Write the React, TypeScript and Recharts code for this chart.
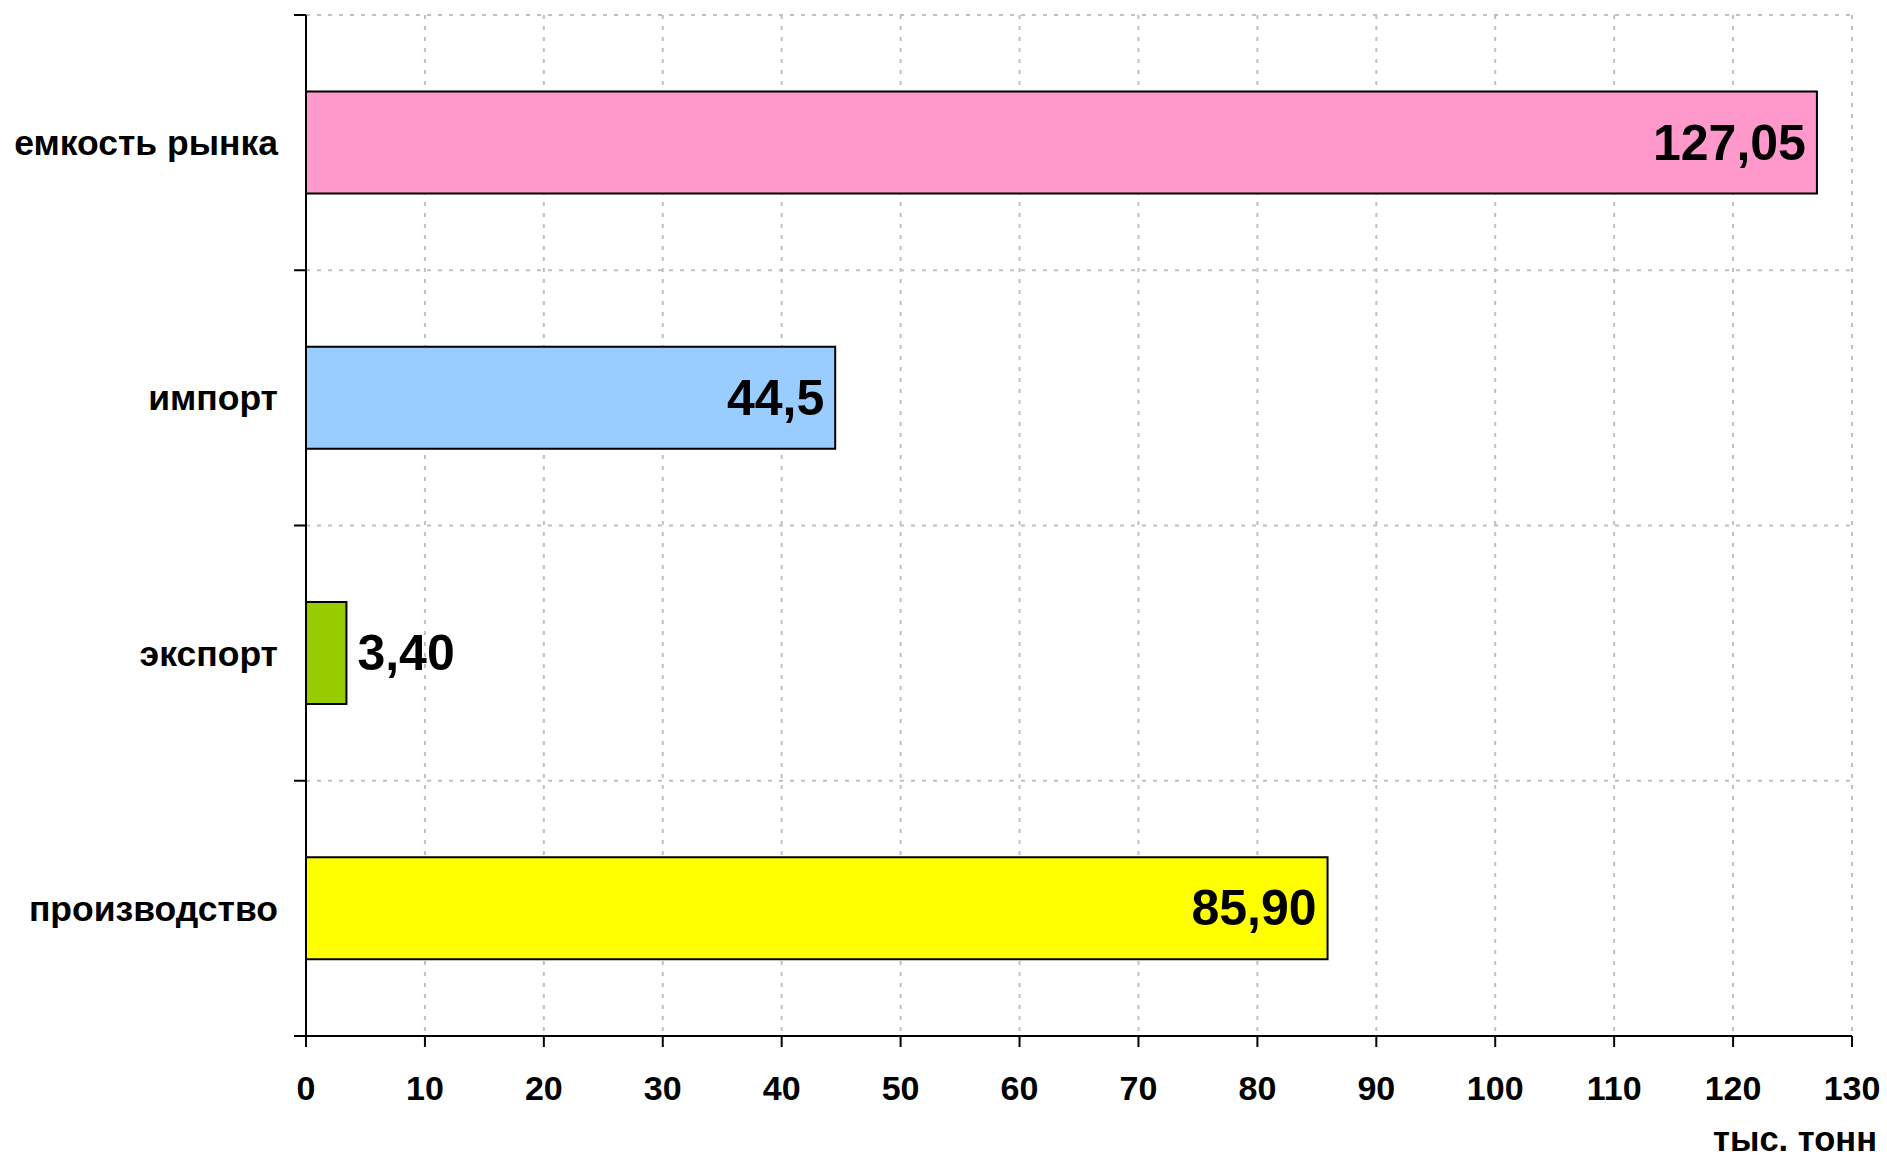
import React from 'react';
import { BarChart, Bar, XAxis, YAxis, CartesianGrid, Cell, LabelList } from 'recharts';

const categories = ['емкость рынка', 'импорт', 'экспорт', 'производство'];
const values = [127.05, 44.5, 3.4, 85.9];
const valueLabels = ['127,05', '44,5', '3,40', '85,90'];
const barColors = ['#FF99CC', '#99CCFF', '#99CC00', '#FFFF00'];
const xTicks = [0, 10, 20, 30, 40, 50, 60, 70, 80, 90, 100, 110, 120, 130];
const unitLabel = 'тыс. тонн';

const data = categories.map((name, i) => ({ name, value: values[i] }));

const FONT = 'Arial, "Liberation Sans", sans-serif';
const CHART_W = 1887;
const CHART_H = 1156;
const MARGIN = { top: 15, right: 35, bottom: 50, left: 0 };
const XAXIS_H = 70;
const PLOT_H = CHART_H - MARGIN.top - MARGIN.bottom - XAXIS_H;
const Y_TICK_MARGIN = 28;
const Y_TICK_SIZE = 12;

const CategoryTick = (props: any) => {
  const { x, y, payload, index } = props;
  const n = categories.length;
  const half = payload && payload.offset > 0 ? payload.offset : PLOT_H / n / 2;
  const axisX = x + Y_TICK_MARGIN;
  return (
    <g>
      <line x1={axisX - Y_TICK_SIZE} x2={axisX} y1={y - half} y2={y - half} stroke="#000" strokeWidth={2} />
      {index === n - 1 && (
        <line x1={axisX - Y_TICK_SIZE} x2={axisX} y1={y + half} y2={y + half} stroke="#000" strokeWidth={2} />
      )}
      <text
        x={x}
        y={y}
        dy="0.355em"
        textAnchor="end"
        fontFamily={FONT}
        fontWeight="bold"
        fontSize={35.5}
        fill="#000"
      >
        {payload.value}
      </text>
    </g>
  );
};

const ValueLabel = (props: any) => {
  const { x, y, width, height, index } = props;
  const inside = values[index] > 10;
  const tx = inside ? x + width - 11 : x + width + 11;
  return (
    <text
      x={tx}
      y={y + height / 2}
      textAnchor={inside ? 'end' : 'start'}
      dominantBaseline="central"
      fontFamily={FONT}
      fontWeight="bold"
      fontSize={50}
      fill="#000"
    >
      {valueLabels[index]}
    </text>
  );
};

const UnitLabel = (props: any) => {
  const vb = props.viewBox || {};
  return (
    <text
      x={vb.x + vb.width + 25}
      y={vb.y + 115}
      textAnchor="end"
      fontFamily={FONT}
      fontWeight="bold"
      fontSize={34.5}
      fill="#000"
    >
      {unitLabel}
    </text>
  );
};

const horizontalGen = ({ offset }: any) => {
  const n = categories.length;
  const arr: number[] = [];
  for (let k = 0; k <= n; k++) arr.push(offset.top + (k * offset.height) / n);
  return arr;
};

export default function App() {
  return (
    <div style={{ position: 'absolute', left: 0, top: 0, width: CHART_W, height: CHART_H, background: '#fff' }}>
      <BarChart
        width={CHART_W}
        height={CHART_H}
        data={data}
        layout="vertical"
        margin={MARGIN}
        barCategoryGap="30%"
      >
        <CartesianGrid
          stroke="#C0C0C0"
          strokeWidth={2}
          strokeDasharray="4 7"
          horizontalCoordinatesGenerator={horizontalGen}
        />
        <YAxis
          type="category"
          dataKey="name"
          orientation="left"
          width={306}
          axisLine={{ stroke: '#000', strokeWidth: 2 }}
          tickLine={false}
          tickSize={0}
          tickMargin={Y_TICK_MARGIN}
          tick={<CategoryTick />}
          interval={0}
        />
        <XAxis
          type="number"
          domain={[0, 130]}
          ticks={xTicks}
          height={XAXIS_H}
          tickSize={11}
          tickMargin={29}
          interval={0}
          axisLine={{ stroke: '#000', strokeWidth: 2 }}
          tickLine={{ stroke: '#000', strokeWidth: 2 }}
          tick={{ fontFamily: FONT, fontWeight: 'bold', fontSize: 34, fill: '#000' }}
          label={<UnitLabel />}
        />
        <Bar dataKey="value" stroke="#000" strokeWidth={2} isAnimationActive={false}>
          {data.map((d, i) => (
            <Cell key={d.name} fill={barColors[i]} />
          ))}
          <LabelList dataKey="value" content={<ValueLabel />} />
        </Bar>
      </BarChart>
    </div>
  );
}
